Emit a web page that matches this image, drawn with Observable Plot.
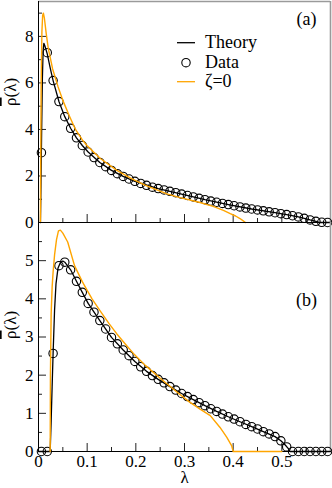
<!DOCTYPE html>
<html><head><meta charset="utf-8">
<script src="https://cdn.jsdelivr.net/npm/d3@7"></script>
<script src="https://cdn.jsdelivr.net/npm/@observablehq/plot@0.6"></script>
<style>
html,body{margin:0;padding:0;background:#fff;}
#wrap{position:relative;width:332px;height:488px;overflow:hidden;font-family:"Liberation Serif","Tinos","Times New Roman",serif;}
#wrap svg.p{position:absolute;left:0;}
</style></head><body><div id="wrap"></div>
<script>
// ---- data ----
const lambdaBins = [0.006,0.018,0.030,0.042,0.054,0.066,0.078,0.090,0.102,0.114,0.126,0.138,0.150,0.162,0.174,0.186,0.198,0.210,0.222,0.234,0.246,0.258,0.270,0.282,0.294,0.306,0.318,0.330,0.342,0.354,0.366,0.378,0.390,0.402,0.414,0.426,0.438,0.450,0.462,0.474,0.486,0.498,0.510,0.522,0.534,0.546,0.558,0.570,0.582,0.594];
const dataA = [3.0,7.3,6.1,5.2,4.55,4.05,3.64,3.31,3.03,2.79,2.58,2.40,2.24,2.10,1.98,1.87,1.77,1.68,1.60,1.52,1.46,1.40,1.34,1.28,1.22,1.16,1.10,1.04,0.98,0.92,0.87,0.82,0.77,0.72,0.67,0.62,0.58,0.54,0.50,0.46,0.42,0.38,0.34,0.29,0.24,0.18,0.11,0.05,0.01,0.0];
const dataB = [0,0,2.57,4.87,4.96,4.76,4.46,4.17,3.88,3.65,3.43,3.21,2.99,2.82,2.66,2.51,2.36,2.22,2.10,1.99,1.89,1.80,1.70,1.61,1.52,1.44,1.36,1.28,1.20,1.12,1.05,0.98,0.91,0.85,0.78,0.71,0.65,0.59,0.52,0.46,0.39,0.28,0.12,0,0,0,0,0,0,0];

const theoryALam = [0.004,0.005,0.0065,0.008,0.0095,0.011,0.013,0.018,0.024,0.030,0.042,0.054,0.066,0.078,0.090,0.102,0.126,0.150,0.174,0.198,0.246,0.294,0.342,0.390,0.438,0.486,0.510,0.534,0.546,0.558,0.570,0.578,0.600];
const theoryAVal = [0,1.5,4.0,6.2,7.4,7.7,7.6,7.25,6.65,6.1,5.2,4.55,4.05,3.64,3.31,3.03,2.58,2.24,1.98,1.77,1.46,1.22,0.98,0.77,0.58,0.42,0.34,0.24,0.18,0.11,0.05,0,0];
const zetaALam = [0.004,0.0045,0.0055,0.007,0.0085,0.010,0.012,0.016,0.020,0.029,0.040,0.050,0.063,0.076,0.090,0.100,0.127,0.161,0.190,0.220,0.264,0.291,0.330,0.359,0.380,0.394,0.405,0.414,0.420,0.424,0.425];
const zetaAVal = [0,2.5,6.0,8.2,8.9,9.0,8.8,8.1,7.5,6.6,5.85,5.25,4.6,4.0,3.55,3.3,2.75,2.24,1.9,1.6,1.23,1.07,0.87,0.69,0.52,0.38,0.28,0.17,0.08,0.02,0];

const theoryBLam = [0,0.024,0.026,0.028,0.030,0.033,0.036,0.040,0.045,0.050,0.054,0.066,0.078,0.090,0.102,0.126,0.150,0.174,0.198,0.222,0.246,0.270,0.294,0.318,0.342,0.366,0.390,0.414,0.438,0.462,0.486,0.498,0.507,0.513,0.517,0.600];
const theoryBVal = [0,0,0.8,1.7,2.57,3.7,4.4,4.8,4.95,4.99,4.96,4.76,4.46,4.17,3.88,3.43,2.99,2.66,2.36,2.10,1.89,1.70,1.52,1.36,1.20,1.05,0.91,0.78,0.65,0.52,0.39,0.28,0.17,0.08,0,0];
const zetaBLam = [0.024,0.0245,0.026,0.028,0.030,0.033,0.037,0.041,0.045,0.050,0.060,0.074,0.090,0.100,0.110,0.127,0.145,0.161,0.180,0.195,0.220,0.250,0.290,0.310,0.332,0.353,0.373,0.387,0.397,0.400,0.500];
const zetaBVal = [0,2.0,3.6,4.3,4.7,5.15,5.55,5.78,5.8,5.72,5.49,4.87,4.45,4.22,4.0,3.68,3.35,3.08,2.79,2.57,2.25,1.92,1.50,1.30,1.11,0.94,0.63,0.37,0.15,0,0];

const xMajor = [0,0.1,0.2,0.3,0.4,0.5];
const xMinor = [0.05,0.15,0.25,0.35,0.45,0.55];
const xTickLabels = ["0","0.1","0.2","0.3","0.4","0.5"];
const yMajorA = [0,2,4,6,8];
const yMinorA = [1,3,5,7,9];
const yMajorB = [0,1,2,3,4,5];
const yMinorB = [0.5,1.5,2.5,3.5,4.5,5.5];
const legendLabels = ["Theory","Data","ζ=0"];
const panelLabels = ["(a)","(b)"];
const yLabel = "ρ(λ)";
const xLabel = "λ";

// ---- drawing ----
const FONT = '"Liberation Serif","Tinos","Times New Roman",serif';
const ORANGE = "#ffa500";
const GREY = "#9a9a9a";
const W = 332, ML = 38, MR = 2;
const frameW = W - ML - MR;

function panel({height, marginTop, marginBottom, yDomain, yMajor, yMinor, data, theoryLam, theoryVal, zetaLam, zetaVal, label, labelDy, ylabDy, bottomAxis}) {
  const frameH = height - marginTop - marginBottom;
  const marks = [
    Plot.tickY(yMinor, {y: d => d, insetRight: frameW - 4, stroke: "#222"}),
    Plot.tickY(yMajor, {y: d => d, insetRight: frameW - 8, stroke: "#222"}),
    Plot.tickX(xMinor, {x: d => d, insetTop: frameH - 4, stroke: "#222"}),
    Plot.tickX(xMajor, {x: d => d, insetTop: frameH - 8, stroke: "#222"}),
    Plot.ruleY([yDomain[1]], {stroke: bottomAxis ? "#000" : GREY, strokeWidth: bottomAxis ? 1 : 1.6}),
    Plot.ruleX([0.6], {stroke: GREY, strokeWidth: 1.6}),
    Plot.ruleX([0], {stroke: "#000"}),
    Plot.ruleY([0], {stroke: "#000"}),
    Plot.axisY(yMajor, {tickSize: 0, tickPadding: 5, fontSize: 17, label: null, tickFormat: d => String(d)}),
    Plot.line(theoryLam, {x: d => d, y: theoryVal, stroke: "#000", strokeWidth: 1.3}),
    Plot.dot(lambdaBins, {x: d => d, y: data, r: 4.2, stroke: "#000", fill: "none", strokeWidth: 1.1}),
    Plot.line(zetaLam, {x: d => d, y: zetaVal, stroke: ORANGE, strokeWidth: 1.4}),
    Plot.text([label], {text: d => d, frameAnchor: "top-right", dx: -24, dy: labelDy, fontSize: 18, textAnchor: "middle"}),
    Plot.text([yLabel], {text: d => d, frameAnchor: "left", dx: -28, dy: ylabDy, rotate: -90, fontSize: 17})
  ];
  if (bottomAxis) {
    marks.push(Plot.axisX(xMajor, {tickSize: 0, tickPadding: 3, fontSize: 17, label: null, tickFormat: (d, i) => xTickLabels[i]}));
    marks.push(Plot.text([xLabel], {text: d => d, frameAnchor: "bottom", dx: 0, dy: 31.5, fontSize: 17}));
  }
  const svg = Plot.plot({
    width: W, height, marginLeft: ML, marginRight: MR, marginTop, marginBottom,
    x: {domain: [0, 0.6], ...(bottomAxis ? {} : {axis: null})},
    y: {domain: yDomain},
    style: {background: "transparent", fontFamily: FONT, fontSize: "17px", color: "#000", overflow: "visible"},
    marks
  });
  // overbar on rho in the axis label
  d3.select(svg).selectAll("text").filter(function() { return this.textContent === yLabel; }).each(function() {
    const t = d3.select(this);
    t.text(null);
    t.append("tspan").attr("text-decoration", "overline").style("text-decoration", "overline").text(yLabel.slice(0, 1));
    t.append("tspan").text(yLabel.slice(1));
  });
  return svg;
}

const wrap = document.getElementById("wrap");
const topP = panel({height: 224, marginTop: 1, marginBottom: 2, yDomain: [0, 9.5], yMajor: yMajorA, yMinor: yMinorA,
  data: dataA, theoryLam: theoryALam, theoryVal: theoryAVal, zetaLam: zetaALam, zetaVal: zetaAVal, label: panelLabels[0], labelDy: 11, ylabDy: -6, bottomAxis: false});
const botP = panel({height: 274, marginTop: 8, marginBottom: 37, yDomain: [0, 6], yMajor: yMajorB, yMinor: yMinorB,
  data: dataB, theoryLam: theoryBLam, theoryVal: theoryBVal, zetaLam: zetaBLam, zetaVal: zetaBVal, label: panelLabels[1], labelDy: 71, ylabDy: 2, bottomAxis: true});
topP.classList.add("p"); botP.classList.add("p");
topP.style.top = "0px"; botP.style.top = "214px";
wrap.appendChild(topP); wrap.appendChild(botP);

// legend
const rows = [{y: 42.7, kind: "line", color: "#000"}, {y: 62.7, kind: "dot"}, {y: 81.7, kind: "line", color: ORANGE}];
const ns = "http://www.w3.org/2000/svg";
const lsvg = document.createElementNS(ns, "svg");
lsvg.setAttribute("width", 332); lsvg.setAttribute("height", 488);
lsvg.style.position = "absolute"; lsvg.style.left = "0"; lsvg.style.top = "0";
rows.forEach((r, i) => {
  if (r.kind === "line") {
    const l = document.createElementNS(ns, "line");
    l.setAttribute("x1", 177); l.setAttribute("x2", 195); l.setAttribute("y1", r.y); l.setAttribute("y2", r.y);
    l.setAttribute("stroke", r.color); l.setAttribute("stroke-width", 1.3);
    lsvg.appendChild(l);
  } else {
    const c = document.createElementNS(ns, "circle");
    c.setAttribute("cx", 186); c.setAttribute("cy", r.y); c.setAttribute("r", 4.2);
    c.setAttribute("fill", "none"); c.setAttribute("stroke", "#000"); c.setAttribute("stroke-width", 1.1);
    lsvg.appendChild(c);
  }
  const t = document.createElementNS(ns, "text");
  t.setAttribute("x", 205); t.setAttribute("y", r.y + 5.5);
  t.setAttribute("font-family", FONT); t.setAttribute("font-size", 18);
  t.textContent = legendLabels[i];
  lsvg.appendChild(t);
});
wrap.appendChild(lsvg);
</script></body></html>
